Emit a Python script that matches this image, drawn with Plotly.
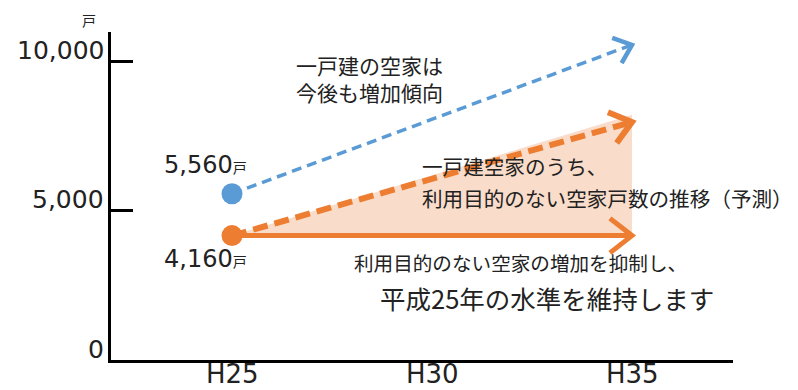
import math
import plotly.graph_objects as go

# ---- data ----
categories = ["H25", "H30", "H35"]
cat_pos = [0, 1, 2]
y_ticks = [0, 5000, 10000]
y_tick_text = ["0", "5,000", "10,000"]

start_total = 5560          # 一戸建の空家 (H25)
start_unused = 4160         # 利用目的のない空家 (H25)
end_total_trend = 10540     # 増加傾向 (H35, arrow)
end_unused_trend = 7960     # 推移（予測） (H35, arrow)
end_unused_target = 4160    # 平成25年の水準を維持
shade_top_end = 8200
shade_bottom_end = 4080

BLUE = "#5B9BD5"
ORANGE = "#ED7D31"
SHADE = "#F9DCC9"
FONT = "Noto Sans CJK JP"
NUMFONT = "DejaVu Sans"

W, H = 798, 390
ML, MR, MT, MB = 111, 65, 32, 30
XR = [-0.605, 2.505]
YR = [0, 10970]
PX_X = (W - ML - MR) / (XR[1] - XR[0])
PX_Y = (H - MT - MB) / (YR[1] - YR[0])


def chevron(x0, y0, x1, y1, arm_px, half_angle_deg):
    dx = (x1 - x0) * PX_X
    dy = (y1 - y0) * PX_Y
    n = math.hypot(dx, dy)
    ux, uy = dx / n, dy / n
    xs, ys = [], []
    for sgn in (1, -1):
        a = math.radians(half_angle_deg) * sgn
        bx = -ux * math.cos(a) + uy * math.sin(a)
        by = -uy * math.cos(a) - ux * math.sin(a)
        xs.append(x1 + bx * arm_px / PX_X)
        ys.append(y1 + by * arm_px / PX_Y)
    return [xs[0], x1, xs[1]], [ys[0], y1, ys[1]]


fig = go.Figure()

# shaded band
fig.add_trace(go.Scatter(
    x=[cat_pos[0], cat_pos[2], cat_pos[2], cat_pos[0]],
    y=[start_unused, shade_top_end, shade_bottom_end, start_unused],
    fill="toself", fillcolor=SHADE, mode="none", hoverinfo="skip"))

series = [
    (start_total, end_total_trend, BLUE, 3.5, "10px,6px", 21, 40),
    (start_unused, end_unused_trend, ORANGE, 6, "15px,7px", 26, 38),
    (start_unused, end_unused_target, ORANGE, 5, "solid", 28, 38),
]
for y0, y1, col, w, dash, arm, ang in series:
    fig.add_trace(go.Scatter(x=[cat_pos[0], cat_pos[2]], y=[y0, y1], mode="lines",
                             line=dict(color=col, width=w, dash=dash), hoverinfo="skip"))
    cx, cy = chevron(cat_pos[0], y0, cat_pos[2], y1, arm, ang)
    fig.add_trace(go.Scatter(x=cx, y=cy, mode="lines",
                             line=dict(color=col, width=w if w > 4 else 4.5), hoverinfo="skip"))

# start points
fig.add_trace(go.Scatter(x=[cat_pos[0]], y=[start_total], mode="markers",
                         marker=dict(color=BLUE, size=21), hoverinfo="skip"))
fig.add_trace(go.Scatter(x=[cat_pos[0]], y=[start_unused], mode="markers",
                         marker=dict(color=ORANGE, size=21), hoverinfo="skip"))

ann = []
# y tick labels
for v, t in zip(y_ticks, y_tick_text):
    ann.append(dict(x=XR[0], y=v, xref="x", yref="y", text=t, showarrow=False,
                    xanchor="right", yanchor="middle", xshift=-5, yshift=11,
                    font=dict(family=NUMFONT, size=25, color="#222")))
# x tick labels
for c, t in zip(cat_pos, categories):
    ann.append(dict(x=c, y=0, xref="x", yref="y", text=t, showarrow=False,
                    xanchor="center", yanchor="middle", yshift=-14,
                    font=dict(family=NUMFONT, size=26, color="#222")))
# unit
ann.append(dict(x=XR[0], y=YR[1], xref="x", yref="y", text="戸", showarrow=False,
                xanchor="center", yanchor="middle", xshift=-22, yshift=12,
                font=dict(family=FONT, size=14, color="#222")))

# data labels
ann.append(dict(x=cat_pos[0], y=start_total, xref="x", yref="y", showarrow=False,
                text=f"{start_total:,}<span style='font-size:14px;font-family:Noto Sans CJK JP'>戸</span>",
                xanchor="center", yanchor="middle", xshift=-27, yshift=29,
                font=dict(family=NUMFONT, size=24, color="#222")))
ann.append(dict(x=cat_pos[0], y=start_unused, xref="x", yref="y", showarrow=False,
                text=f"{start_unused:,}<span style='font-size:14px;font-family:Noto Sans CJK JP'>戸</span>",
                xanchor="center", yanchor="middle", xshift=-27, yshift=-23,
                font=dict(family=NUMFONT, size=24, color="#222")))


def txt(px, py, s, size):
    ann.append(dict(x=(px - ML) / (W - ML - MR), y=1 - (py - MT) / (H - MT - MB),
                    xref="paper", yref="paper", text=s, showarrow=False,
                    xanchor="left", yanchor="middle", align="left",
                    font=dict(family=FONT, size=size, color="#222")))


txt(294, 78, "一戸建の空家は<br>今後も増加傾向", 21)
txt(420, 166, "一戸建空家のうち、", 20.6)
txt(420, 198, "利用目的のない空家戸数の推移（予測）", 20.6)
txt(352, 262, "利用目的のない空家の増加を抑制し、", 19.6)
txt(378, 297, "平成25年の水準を維持します", 25.5)

fig.update_layout(
    width=W, height=H, margin=dict(l=ML, r=MR, t=MT, b=MB),
    paper_bgcolor="white", plot_bgcolor="white", showlegend=False,
    annotations=ann,
    xaxis=dict(range=XR, tickvals=cat_pos, showticklabels=False, showgrid=False,
               zeroline=False, showline=True, linecolor="black", linewidth=3,
               ticks="", automargin=False),
    yaxis=dict(range=YR, tickvals=y_ticks, showticklabels=False, showgrid=False,
               zeroline=False, showline=True, linecolor="black", linewidth=3,
               automargin=False,
               ticks="inside", ticklen=22, tickwidth=2.5, tickcolor="black"),
)

fig.write_html("out.html")
